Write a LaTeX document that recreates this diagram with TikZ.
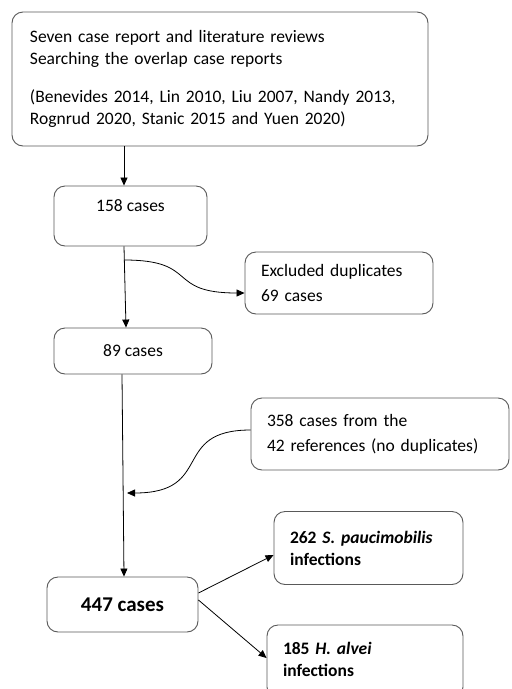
\documentclass[tikz,border=0pt]{standalone}
\usepackage{fontspec}
\setmainfont{Carlito}
\usetikzlibrary{arrows.meta}
\begin{document}
\begin{tikzpicture}[x=1pt,y=-1pt,font=\fontsize{17.5}{22}\selectfont,
  box/.style={draw=black!65,line width=0.9pt,rounded corners=11pt,inner sep=0pt},
  leftbox/.style={box,align=left,text width=#1},
  arr/.style={-{Triangle[length=8pt,width=7pt]},line width=0.8pt}]
 \clip (0,0) rectangle (512,689);
 \fill[white] (0,0) rectangle (512,689);
 \node[leftbox=380pt,minimum width=416pt,minimum height=134pt] (search) at (220,79)
  {Seven case report and literature reviews\\Searching the overlap case reports\\[16pt]
   (Benevides 2014, Lin 2010, Liu 2007, Nandy 2013,\\Rognrud 2020, Stanic 2015 and Yuen 2020)};
 \node[box,minimum width=153pt,minimum height=60pt,text depth=20pt] (c158) at (130.5,216) {158 cases};
 \node[leftbox=156pt,minimum width=188pt,minimum height=62pt,font=\fontsize{17.5}{25}\selectfont] (excl) at (339,283)
  {Excluded duplicates\\69 cases};
 \node[box,minimum width=158pt,minimum height=46pt] (c89) at (133,351) {89 cases};
 \node[leftbox=226pt,minimum width=258pt,minimum height=72pt,font=\fontsize{17.5}{25}\selectfont] (refs) at (380,434)
  {358 cases from the\\42 references (no duplicates)};
 \node[box,minimum width=151pt,minimum height=55pt,font=\fontsize{21}{24}\selectfont\bfseries] (c447) at (122.5,604.5) {447 cases};
 \node[leftbox=157pt,minimum width=189pt,minimum height=73pt] (spau) at (368.5,548)
  {\textbf{262 \textit{S. paucimobilis}}\\\textbf{infections}};
 \node[leftbox=164pt,minimum width=196pt,minimum height=73pt,text depth=26pt] (halv) at (365,661.5)
  {\textbf{185 \textit{H. alvei}}\\\textbf{infections}};
 % connectors
 \coordinate (split) at (124,260);
 \coordinate (join) at (127,493);
 \draw[arr] (search.south -| 124,0) -- (c158.north -| 124,0);
 \draw[arr] (c158.south -| 124,0) -- (c89.north -| 126,0);
 \draw[arr] (split) .. controls (200,260) and (165,293) .. (excl.west |- 0,293);
 \draw[arr] (c89.south -| 122,0) -- (c447.north -| 124,0);
 \draw[arr] (refs.west |- 0,430) .. controls (170,430) and (215,493) .. (join);
 \draw[arr] (c447.east |- 0,593) -- (spau.west |- 0,555);
 \draw[arr] (c447.east |- 0,600) -- (halv.west |- 0,658);
\end{tikzpicture}
\end{document}
